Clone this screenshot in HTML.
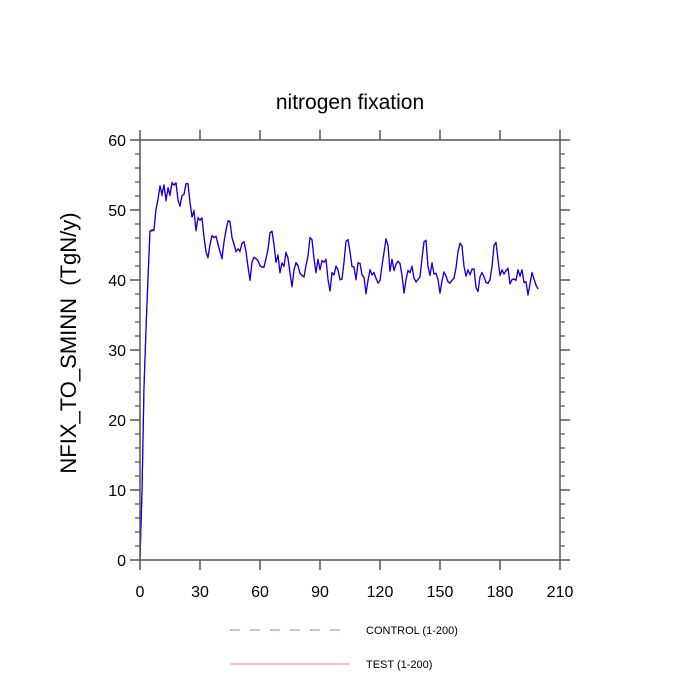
<!DOCTYPE html>
<html><head><meta charset="utf-8"><style>
html,body{margin:0;padding:0;background:#fff;}
svg{display:block;font-family:"Liberation Sans",Arial,sans-serif;}
</style></head><body>
<svg id="chart" width="700" height="700" viewBox="0 0 700 700">
<text x="350" y="109" font-size="21" text-anchor="middle">nitrogen fixation</text>
<text transform="translate(76,343) rotate(-90)" font-size="22" text-anchor="middle">NFIX_TO_SMINN&#160; (TgN/y)</text>
<g id="series"></g>
<g id="ticks"></g>
<rect x="140" y="140" width="420" height="420" fill="none" stroke="#555" stroke-width="1.5"/>
<g>
<line x1="230" y1="630" x2="350" y2="630" stroke="#8080ff" stroke-width="1" stroke-dasharray="10,10"/>
<text x="366" y="634" font-size="11">CONTROL (1-200)</text>
<line x1="230" y1="664" x2="350" y2="664" stroke="#ff8080" stroke-width="1"/>
<text x="366" y="668" font-size="11">TEST (1-200)</text>
</g>
</svg>
<script>
const xTicks=[0,30,60,90,120,150,180,210];
const yTicks=[0,10,20,30,40,50,60];
const testVals=[0,10,25,33,40,47,47.2,47,50,51.5,53.5,52,53.5,51.5,53,52,54,53.5,53.8,51.5,50.5,52,52.3,53.8,53.7,51,49,50,47,49,48.5,
48.8,46,44,43.1,45,46.4,46,46.3,45,44,43.2,45.5,47,48.5,48.4,46,45,44,44.5,44,45.3,45.4,44,42,39.9,42.5,43.3,43,42.8,42,
41.9,41.8,43,44.5,46.8,46.9,45,42.6,43.5,41,42.5,41.9,44,43,41,39,41.5,42.4,42,41,40.6,40.5,42,43.5,46,45.8,43,41,43,41.4,
42.8,42.5,43,40,38.5,41,40.8,41.9,41.5,40,40.2,42.5,45.6,45.7,44,42,41.8,40,42.5,42.3,40.8,40.3,38,40,41.4,40.8,41,40.3,39.5,40,
42,44,45.8,45,41.2,43,41.3,42.3,42.6,42.4,40.6,38.2,40,41.4,41,42,40.2,39.8,40,40.5,43,45.5,45.6,42,40.6,42.5,40.8,41,40,38.2,
39.8,41.2,40.5,39.8,39.5,40,40.2,41.8,44,45.3,44.8,42,40.5,41.5,40.7,41.6,41.5,39,38.3,40.5,41,40.5,39.6,39.6,40,42,45,45.3,43,40.6,
41.5,40.8,41.4,41.6,39.5,40,40.2,39.9,41.5,40.5,41.5,39.6,39.8,37.8,39.5,41,40.2,39.2,38.8];
const controlVals=[0,9.5,24.5,33,40.5,47,47,47.3,50.2,51.5,53.4,52.3,53.6,51.3,53.2,52.2,53.8,53.6,53.9,51.4,50.6,52.1,52.2,53.7,53.8,51.2,49,49.8,47.1,48.8,48.6,
48.9,46.2,44,43.3,45.1,46.3,46.1,46.2,45.2,44.1,43,45.4,47.2,48.4,48.3,46.1,45.2,44.1,44.4,44.2,45.2,45.5,44.1,41.8,40,42.6,43.2,43.1,42.7,42.1,
41.8,41.9,43.1,44.3,46.7,47,45.1,42.5,43.6,41.1,42.4,42,43.9,43.2,41,39.1,41.4,42.5,42.1,40.9,40.7,40.4,42.1,43.4,46.1,45.7,43.1,41.1,42.9,41.5,
42.7,42.6,42.9,40.1,38.4,41.1,40.7,42,41.4,40.1,40.1,42.6,45.5,45.8,44.1,41.9,41.9,40.1,42.4,42.4,40.7,40.4,38.1,39.9,41.5,40.7,41.1,40.2,39.6,39.9,
42.1,43.9,45.9,44.9,41.3,42.9,41.4,42.2,42.7,42.3,40.7,38.1,40.1,41.3,41.1,41.9,40.3,39.7,40.1,40.4,43.1,45.4,45.7,41.9,40.7,42.4,40.9,40.9,40.1,38.1,
39.9,41.1,40.6,39.7,39.6,39.9,40.3,41.7,44.1,45.2,44.9,41.9,40.6,41.4,40.8,41.5,41.6,38.9,38.4,40.4,41.1,40.4,39.7,39.5,40.1,41.9,44.9,45.4,42.9,40.7,
41.4,40.9,41.3,41.7,39.4,40.1,40.1,40,41.4,40.6,41.4,39.7,39.7,37.9,39.4,41.1,40.1,39.3,38.7];
const NS="http://www.w3.org/2000/svg";
const X0=140,X1=560,Y0=560,Y1=140;
function xs(v){return X0+(v-0)/(210-0)*(X1-X0);}
function ys(v){return Y0-(v-0)/(60-0)*(Y0-Y1);}
function mk(tag,attrs,parent){const e=document.createElementNS(NS,tag);for(const k in attrs)e.setAttribute(k,attrs[k]);parent.appendChild(e);return e;}
const tg=document.getElementById('ticks');
xTicks.forEach(v=>{
  const x=xs(v);
  const t=mk('path',{d:`M${x},${Y0}V${Y0+10}M${x},${Y1}V${Y1-10}`,stroke:'#555','stroke-width':1.5},tg);
  
  
});
for(let v=0;v<=60;v+=2){
  const major=v%10===0;const L=major?10:5;const y=ys(v);
  const t=mk('path',{d:`M${X0},${y}H${X0-L}M${X1},${y}H${X1+L}`,stroke:'#555','stroke-width':major?1.5:1.2},tg);
  
  
}
xTicks.forEach(v=>{
  const t=mk('text',{x:xs(v),y:Y0+37,'font-size':16,'text-anchor':'middle'},tg);t.textContent=v;
  
  
});
yTicks.forEach(v=>{
  const t=mk('text',{x:X0-14,y:ys(v)+6,'font-size':16,'text-anchor':'end'},tg);t.textContent=v;
  
  
});
const sg=document.getElementById('series');
function line(vals,color,name){
  const d=vals.map((v,i)=>(i?'L':'M')+xs(i).toFixed(2)+','+ys(v).toFixed(2)).join('');
  const p=mk('path',{d:d,fill:'none',stroke:color,'stroke-width':1.2,'stroke-linejoin':'round'},sg);
  
  
}
line(testVals,'#ff0000','test-line');
line(controlVals,'#0000ff','control-line');
</script>
</body></html>
